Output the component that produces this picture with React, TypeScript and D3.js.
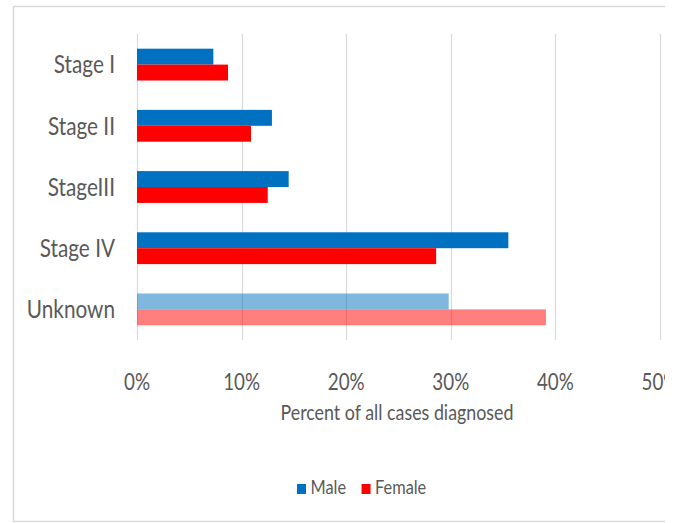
import React, { useEffect, useRef } from 'react';
import * as d3 from 'd3';

const categories = ['Stage I', 'Stage II', 'StageIII', 'Stage IV', 'Unknown'];
const seriesNames = ['Male', 'Female'];
const maleValues = [7.3, 12.9, 14.5, 35.5, 29.8];
const femaleValues = [8.7, 10.9, 12.5, 28.6, 39.1];
const xTicks = [0, 10, 20, 30, 40, 50];
const fadedCategories = ['Unknown'];

const colors = ['#0070C0', '#FF0000'];
const textColor = '#595959';
const gridColor = '#D9D9D9';
const fontFamily = 'Lato, "Open Sans", sans-serif';

// squeeze text horizontally, the original uses a narrow font
const squeeze = (sel: d3.Selection<SVGTextElement, any, any, any>, k: number) => {
  sel.each(function () {
    const w = this.getComputedTextLength();
    d3.select(this).attr('textLength', w * k).attr('lengthAdjust', 'spacingAndGlyphs');
  });
};

const App: React.FC = () => {
  const svgRef = useRef<SVGSVGElement>(null);
  const width = 676;
  const height = 523;
  const margin = { top: 34, right: 16, bottom: 183, left: 137 };

  useEffect(() => {
    if (!svgRef.current) return;
    document.body.style.margin = '0';

    d3.select(svgRef.current).selectAll('*').remove();

    const svg = d3.select(svgRef.current)
      .attr('width', width)
      .attr('height', height)
      .style('font-family', fontFamily);

    // chart was cropped on the right
    svg.append('defs').append('clipPath')
      .attr('id', 'crop')
      .append('rect')
      .attr('x', 0)
      .attr('y', 0)
      .attr('width', 665)
      .attr('height', height);

    const root = svg.append('g').attr('clip-path', 'url(#crop)');

    // Outer frame
    root.append('path')
      .attr('d', 'M665,6.5H13.5V521.5H665')
      .attr('fill', 'none')
      .attr('stroke', gridColor)
      .attr('stroke-width', 1.5);

    const xScale = d3.scaleLinear()
      .domain([0, 50])
      .range([margin.left, width - margin.right]);

    const yScale = d3.scaleBand<string>()
      .domain(categories)
      .range([margin.top, height - margin.bottom])
      .paddingInner(0.48)
      .paddingOuter(0.24);

    const subScale = d3.scaleBand<string>()
      .domain(seriesNames)
      .range([0, yScale.bandwidth()]);

    // Grid lines
    root.append('g')
      .selectAll('line')
      .data(xTicks)
      .enter()
      .append('line')
      .attr('x1', d => Math.round(xScale(d)) + 0.5)
      .attr('x2', d => Math.round(xScale(d)) + 0.5)
      .attr('y1', margin.top)
      .attr('y2', height - margin.bottom)
      .attr('stroke', gridColor)
      .attr('stroke-width', 1.2);

    // Bars
    const allValues = [maleValues, femaleValues];
    seriesNames.forEach((name, si) => {
      root.append('g')
        .selectAll('rect')
        .data(categories.map((c, i) => ({ c, v: allValues[si][i] })))
        .enter()
        .append('rect')
        .attr('x', xScale(0))
        .attr('y', d => (yScale(d.c) || 0) + (subScale(name) || 0))
        .attr('width', d => xScale(d.v) - xScale(0))
        .attr('height', subScale.bandwidth())
        .attr('fill', colors[si])
        .attr('fill-opacity', d => (fadedCategories.includes(d.c) ? 0.5 : 1));
    });

    // Category labels
    const catLabels = root.append('g')
      .selectAll('text')
      .data(categories)
      .enter()
      .append('text')
      .attr('x', 115)
      .attr('y', d => (yScale(d) || 0) + yScale.bandwidth() / 2 + 8.7)
      .attr('text-anchor', 'end')
      .style('font-size', '25px')
      .style('fill', textColor)
      .text(d => d);
    squeeze(catLabels as any, 0.83);

    // X tick labels
    const tickLabels = root.append('g')
      .selectAll('text')
      .data(xTicks)
      .enter()
      .append('text')
      .attr('x', d => xScale(d))
      .attr('y', 389.5)
      .attr('text-anchor', 'middle')
      .style('font-size', '23.5px')
      .style('fill', textColor)
      .text(d => `${d}%`);
    squeeze(tickLabels as any, 0.8);

    // X axis title
    const title = root.append('text')
      .attr('x', 397)
      .attr('y', 420)
      .attr('text-anchor', 'middle')
      .style('font-size', '20.5px')
      .style('fill', textColor)
      .text('Percent of all cases diagnosed');
    squeeze(title as any, 0.87);

    // Legend
    const legend = root.append('g').attr('transform', 'translate(297,0)');
    let lx = 0;
    seriesNames.forEach((name, si) => {
      legend.append('rect')
        .attr('x', lx)
        .attr('y', 484)
        .attr('width', 9)
        .attr('height', 10)
        .attr('fill', colors[si]);
      const t = legend.append('text')
        .attr('x', lx + 13.5)
        .attr('y', 494.3)
        .style('font-size', '19px')
        .style('fill', textColor)
        .text(name);
      const natural = (t.node() as SVGTextElement).getComputedTextLength();
      t.attr('textLength', natural * 0.86).attr('lengthAdjust', 'spacingAndGlyphs');
      lx += 13.5 + natural * 0.86 + 15.5;
    });
  }, []);

  return (
    <div>
      <svg ref={svgRef}></svg>
    </div>
  );
};

export default App;
